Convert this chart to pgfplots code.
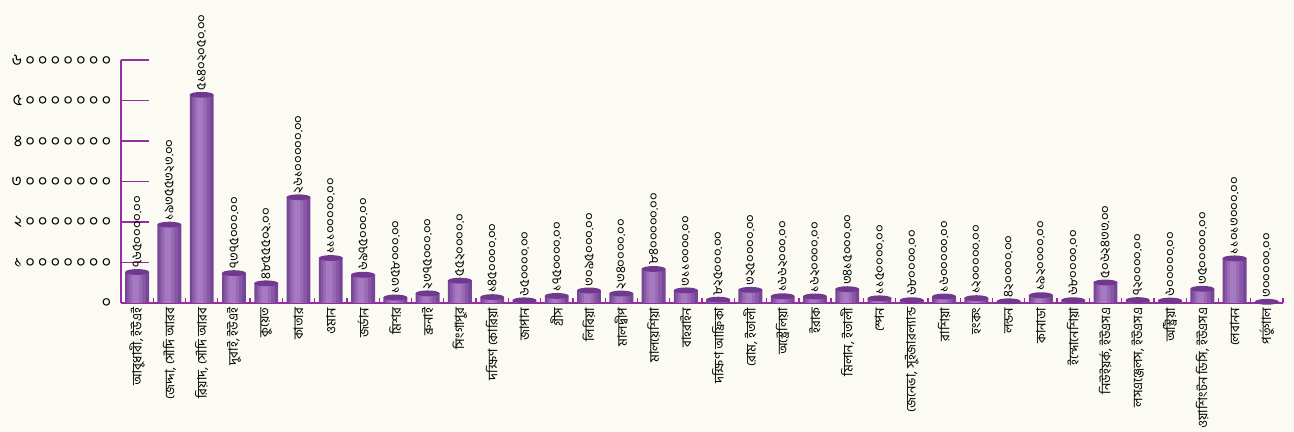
\documentclass[border=0pt]{standalone}
\usepackage{fontspec}
\newfontfamily\bn[Script=Bengali]{Hind Siliguri}
\newfontfamily\bnwide[Script=Bengali, LetterSpace=22]{Hind Siliguri}
\usepackage{pgfplots}
\usepackage{pgfplotstable}
\pgfplotsset{compat=1.18}
\usetikzlibrary{backgrounds}

\definecolor{bgcol}{RGB}{251,251,243}
\definecolor{axcol}{RGB}{150,45,160}
\definecolor{barA}{RGB}{120,70,150}
\definecolor{barB}{RGB}{136,88,166}
\definecolor{barC}{RGB}{152,106,180}
\definecolor{barD}{RGB}{166,122,192}
\definecolor{barT}{RGB}{112,56,142}

% top of the cylinder
\pgfdeclareplotmark{cyltop}{%
  \pgfpathellipse{\pgfpointorigin}{\pgfqpoint{9pt}{0pt}}{\pgfqpoint{0pt}{2.2pt}}%
  \pgfusepathqfill}

\pgfplotstableread{
x y
0 7650000
1 19355323
2 51402050
3 7375000
4 4855502
5 26100000
6 11100000
7 6975000
8 1358000
9 2375000
10 5520000
11 1450000
12 650000
13 1750000
14 3095000
15 2340000
16 8400000
17 3110000
18 825000
19 3250000
20 1662000
21 1620000
22 3415000
23 1150000
24 680000
25 1600000
26 1200000
27 420000
28 1920000
29 680000
30 5062433
31 720000
32 600000
33 3500000
34 11013000
35 300000
}\vals

\begin{document}
\begin{tikzpicture}[show background rectangle, inner frame sep=0pt,
  background rectangle/.style={fill=bgcol, draw=none}]
\begin{axis}[
  name=ax,
  scale only axis,
  width=871.5pt, height=182.25pt,
  xmin=-0.5, xmax=35.5,
  ymin=0, ymax=60000000,
  axis x line*=bottom, axis y line*=left,
  axis line style={-, draw=axcol, line width=1.1pt},
  tick align=inside,
  major tick length=21pt,
  minor tick length=4pt,
  tick style={draw=axcol, line width=1pt},
  every major x tick/.append style={draw=none},
  xtick={0,...,35},
  minor xtick={-0.5,0.5,...,35.5},
  xticklabels={{আবুধাবী, ইউএই},{জেদ্দা, সৌদি আরব},{রিয়াদ, সৌদি আরব},{দুবাই, ইউএই},
    কুয়েত,কাতার,ওমান,জর্ডান,মিশর,ব্রুনাই,সিংগাপুর,{দক্ষিণ কোরিয়া},জাপান,গ্রীস,
    লিবিয়া,মালদ্বীপ,মালয়েশিয়া,বাহরাইন,{দক্ষিণ আফ্রিকা},{রোম, ইতালী},অস্ট্রেলিয়া,
    ইরাক,{মিলান, ইতালী},স্পেন,{জেনেভা, সুইজারল্যান্ড},রাশিয়া,হংকং,লন্ডন,কানাডা,
    ইন্দোনেশিয়া,{নিউইয়র্ক, ইউএসএ},{লসএঞ্জেলস, ইউএসএ},অস্ট্রিয়া,
    {ওয়াশিংটন ডিসি, ইউএসএ},লেবানন,পর্তুগাল},
  xticklabel style={rotate=90, anchor=east, font=\bn\fontsize{9.8}{10}\selectfont},
  ytick={0,10000000,20000000,30000000,40000000,50000000,60000000},
  yticklabels={০,১০০০০০০০,২০০০০০০০,৩০০০০০০০,৪০০০০০০০,৫০০০০০০০,৬০০০০০০০},
  yticklabel style={font=\bnwide\fontsize{12}{13}\selectfont, xshift=-4pt},
  scaled y ticks=false,
  clip=false,
]
% cylinder body, lighter towards the middle
\addplot[ybar, draw=none, fill=barA, bar width=0.74, bar shift=0] table[x=x,y=y] {\vals};
\addplot[ybar, draw=none, fill=barB, bar width=0.56, bar shift=-0.02] table[x=x,y=y] {\vals};
\addplot[ybar, draw=none, fill=barC, bar width=0.38, bar shift=-0.04] table[x=x,y=y] {\vals};
\addplot[ybar, draw=none, fill=barD, bar width=0.2, bar shift=-0.05,
  point meta=explicit symbolic,
  nodes near coords={\pgfplotspointmeta},
  every node near coord/.append style={rotate=90, anchor=west, inner sep=3pt,
    font=\bn\fontsize{10}{11}\selectfont, text=black}]
coordinates {
(0,7650000) [৭৬৫০০০০.০০]
(1,19355323) [১৯৩৫৫৩২৩.০০]
(2,51402050) [৫১৪০২০৫০.০০]
(3,7375000) [৭৩৭৫০০০.০০]
(4,4855502) [৪৮৫৫৫০২.০০]
(5,26100000) [২৬১০০০০০.০০]
(6,11100000) [১১১০০০০০.০০]
(7,6975000) [৬৯৭৫০০০.০০]
(8,1358000) [১৩৫৮০০০.০০]
(9,2375000) [২৩৭৫০০০.০০]
(10,5520000) [৫৫২০০০০.০]
(11,1450000) [১৪৫০০০০.০০]
(12,650000) [৬৫০০০০.০০]
(13,1750000) [১৭৫০০০০.০০]
(14,3095000) [৩০৯৫০০০.০০]
(15,2340000) [২৩৪০০০০.০০]
(16,8400000) [৮৪০০০০০.০০]
(17,3110000) [৩১১০০০০.০০]
(18,825000) [৮২৫০০০.০০]
(19,3250000) [৩২৫০০০০.০০]
(20,1662000) [১৬৬২০০০.০০]
(21,1620000) [১৬২০০০০.০০]
(22,3415000) [৩৪১৫০০০.০০]
(23,1150000) [১১৫০০০০.০০]
(24,680000) [৬৮০০০০.০০]
(25,1600000) [১৬০০০০০.০০]
(26,1200000) [১২০০০০০.০০]
(27,420000) [৪২০০০০.০০]
(28,1920000) [১৯২০০০০.০০]
(29,680000) [৬৮০০০০.০০]
(30,5062433) [৫০৬২৪৩৩.০০]
(31,720000) [৭২০০০০.০০]
(32,600000) [৬০০০০০.০০]
(33,3500000) [৩৫০০০০০.০০]
(34,11013000) [১১০১৩০০০.০০]
(35,300000) [৩০০০০০.০০]
};
\addplot[only marks, mark=cyltop, color=barT] table[x=x,y=y] {\vals};
\end{axis}
\pgfresetboundingbox
\path[use as bounding box] ([xshift=-90.75pt,yshift=-96.75pt]ax.south west)
  rectangle ([xshift=8.25pt,yshift=45pt]ax.north east);
\end{tikzpicture}
\end{document}
